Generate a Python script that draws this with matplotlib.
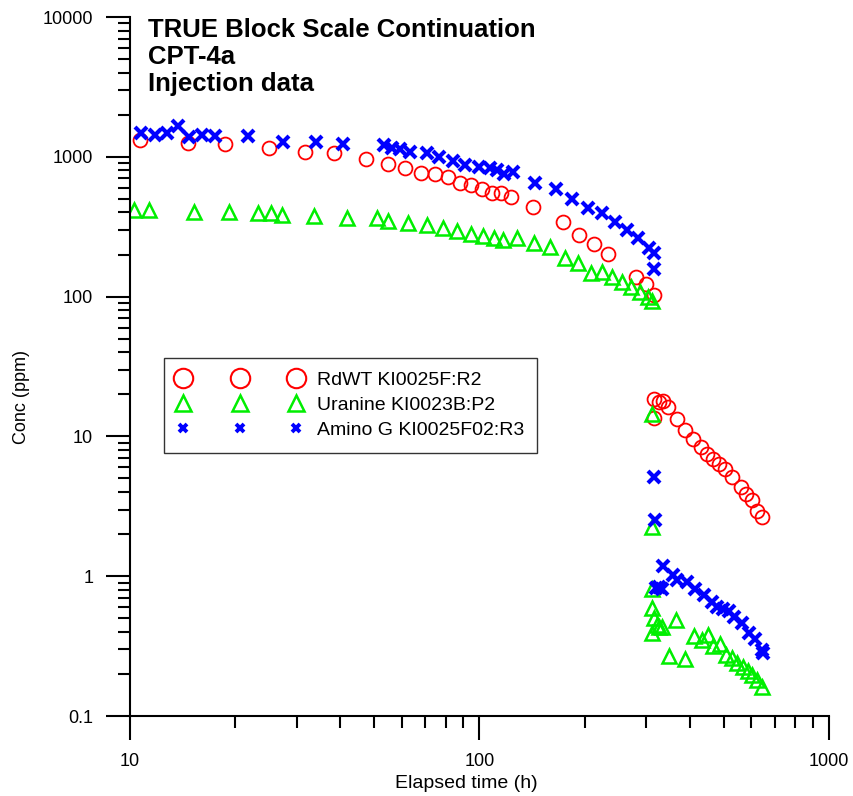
import matplotlib
matplotlib.use('Agg')
import matplotlib.pyplot as plt
import numpy as np
from matplotlib.lines import Line2D
from matplotlib.ticker import LogLocator, FuncFormatter, NullFormatter

plt.rcParams['font.family'] = ['Liberation Sans', 'DejaVu Sans']

# RdWT KI0025F:R2
rdwt_t = [10.7, 14.7, 18.7, 25.0, 31.7, 38.3, 47.3, 54.7, 61.2, 67.9, 74.5, 81.2, 87.9, 94.5,
          101.6, 108.5, 115.1, 123, 142, 173, 192.5, 212, 233, 280, 299, 315,
          315, 326, 334.6, 346, 315, 367, 387, 408, 430, 447, 465, 484, 504, 527,
          559, 578, 601, 622, 642]
rdwt_c = [1320, 1255, 1230, 1155, 1080, 1060, 965, 890, 830, 766, 753, 717, 650, 629,
          588, 551, 551, 516, 438, 342, 276, 238, 202, 138, 123, 103,
          18.5, 17.6, 17.9, 16.2, 13.5, 13.3, 11.1, 9.58, 8.40, 7.48, 6.89, 6.35, 5.84, 5.12,
          4.35, 3.87, 3.51, 2.93, 2.65]

# Uranine KI0023B:P2
uran_t = [10.27, 11.33, 15.24, 19.2, 23.2, 25.3, 27.2, 33.6, 41.8, 50.9, 54.7, 62.4, 70.7, 78.6,
          86.2, 94.5, 102.3, 109.9, 116.7, 127.9, 143, 159, 175.5, 191.2, 208.3, 224, 239,
          255.5, 271, 288, 303, 311,
          311, 311, 311, 311, 315, 322, 326, 332, 311, 365, 348, 387, 411, 433, 450, 465,
          487, 507, 527, 545, 567, 586, 601, 622, 642]
uran_c = [416, 416, 403, 403, 396, 396, 383, 377, 365, 365, 347, 336, 325, 310,
          294, 280, 271, 263, 254, 263, 242, 226, 189, 174, 147.5, 150, 138,
          127, 117, 108, 99.3, 93,
          14.5, 2.25, 0.81, 0.592, 0.502, 0.448, 0.433, 0.433, 0.392, 0.486, 0.269, 0.256, 0.373, 0.350, 0.380, 0.317,
          0.327, 0.273, 0.260, 0.239, 0.224, 0.210, 0.196, 0.181, 0.161]

# Amino G KI0025F02:R3
amino_t = [10.75, 11.79, 12.76, 13.72, 14.75, 16.07, 17.51, 21.76, 27.4, 34.0, 40.7, 53.3, 56.2,
           59.2, 63.2, 70.7, 76.5, 83.9, 90.8, 99.6, 107.1, 112.1, 117.4, 124.6, 144, 165.4,
           183.8, 204.2, 224, 244, 264, 284, 305, 315, 315,
           315, 317.6, 334.6, 326, 332, 319.7, 357.5, 367, 392, 413, 438, 462, 478, 497, 517,
           534, 563, 590, 614, 642, 647]
amino_c = [1480, 1432, 1480, 1661, 1386, 1432, 1409, 1409, 1276, 1276, 1235, 1214, 1156,
           1137, 1082, 1065, 997, 933, 874, 845, 832, 804, 753, 778, 650, 588,
           499, 430, 396, 342, 300, 263, 223, 205, 157.5,
           5.13, 2.52, 1.18, 0.837, 0.810, 0.82, 1.02, 0.939, 0.909, 0.810, 0.734, 0.654, 0.602, 0.583, 0.564,
           0.511, 0.463, 0.392, 0.355, 0.297, 0.282]

RED = '#ff0000'
GREEN = '#00ee00'
BLUE = '#0000ff'

fig = plt.figure(figsize=(8.54, 7.96), dpi=100)
ax = fig.add_axes([0.1522, 0.1005, 0.8185, 0.8781])

ax.plot(rdwt_t, rdwt_c, ls='none', marker='o', ms=10, mfc='none', mec=RED, mew=1.3)
ax.plot(uran_t, uran_c, ls='none', marker='^', ms=10.5, mfc='none', mec=GREEN, mew=1.8)
ax.plot(amino_t, amino_c, ls='none', marker='x', ms=8.5, mec=BLUE, mew=3)

ax.set_xscale('log')
ax.set_yscale('log')
ax.set_xlim(10, 1000)
ax.set_ylim(0.1, 10000)

for s in ['top', 'right']:
    ax.spines[s].set_visible(False)
for s in ['left', 'bottom']:
    ax.spines[s].set_linewidth(1.5)

fmt = FuncFormatter(lambda v, _: f'{v:g}')
for axis in [ax.xaxis, ax.yaxis]:
    axis.set_major_locator(LogLocator(base=10))
    axis.set_minor_locator(LogLocator(base=10, subs=np.arange(2, 10)))
    axis.set_major_formatter(fmt)
    axis.set_minor_formatter(NullFormatter())
ax.tick_params(which='major', length=17.5, width=1.5, direction='out', labelsize=13, pad=9)
ax.tick_params(which='minor', length=8.7, width=1.5, direction='out')

fig.text(466 / 854, 1 - 783 / 796, 'Elapsed time (h)', ha='center', va='center', fontsize=14)
fig.text(22 / 854, 1 - 397 / 796, 'Conc (ppm)', ha='center', va='center', fontsize=13,
         rotation=90)

titles = ['TRUE Block Scale Continuation', 'CPT-4a', 'Injection data']
for i, t in enumerate(titles):
    fig.text(148 / 854, 1 - (30 + 27 * i) / 796, t, ha='left', va='center',
             fontsize=18.5, fontweight='bold')

handles = [
    Line2D([], [], ls='none', marker='o', ms=14, mfc='none', mec=RED, mew=1.5),
    Line2D([], [], ls='none', marker='^', ms=11, mfc='none', mec=GREEN, mew=1.8),
    Line2D([], [], ls='none', marker='x', ms=6, mec=BLUE, mew=2.8),
]
labels = ['RdWT KI0025F:R2', 'Uranine KI0023B:P2', 'Amino G KI0025F02:R3']
leg = ax.legend(handles, labels, numpoints=3, handlelength=6.37, handletextpad=0.78,
                borderpad=0.7, labelspacing=0.38, fontsize=14, fancybox=False,
                framealpha=1, edgecolor='#333333', loc='upper left', borderaxespad=0,
                bbox_to_anchor=(164 / 854, 1 - 358 / 796), bbox_transform=fig.transFigure)
leg.get_frame().set_linewidth(1.0)

fig.savefig('out.png', dpi=100)
